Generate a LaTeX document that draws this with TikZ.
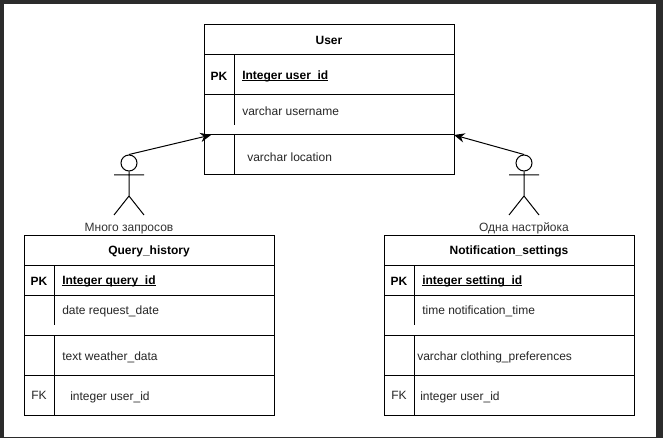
\documentclass[tikz,border=0pt]{standalone}
\usepackage{fontspec}
\setmainfont{Liberation Sans}
\usetikzlibrary{arrows.meta}
\newcommand\ulin[1]{\setbox0\hbox{#1}\rlap{\rule[-1.5pt]{\wd0}{0.6pt}}\box0}
\tikzset{
  x=0.75pt,y=-0.75pt,
  ln/.style={draw=black,line width=0.75pt},
  tbl/.style={ln,fill=white},
  txt/.style={font=\fontsize{9}{11}\selectfont,inner sep=0pt,text=black!85,anchor=west},
  bld/.style={font=\fontsize{9}{11}\selectfont\bfseries,inner sep=0pt,text=black},
  conn/.style={ln,-{Stealth[length=8pt,width=7pt]}},
  headc/.style={circle,ln,minimum size=12pt,inner sep=0pt,fill=white},
  lab/.style={font=\fontsize{9}{11}\selectfont,inner sep=0pt,text=black!80},
}
\definecolor{frame}{HTML}{2B2B2B}
\begin{document}
\begin{tikzpicture}
\useasboundingbox (0,0) rectangle (663,438);
\fill[white] (0,0) rectangle (663,438);
% window edges
\fill[frame] (0,0) rectangle (4,438);
\fill[frame] (656,0) rectangle (663,438);
\fill[frame] (0,0) rectangle (663,4.5);
\fill[frame] (0,437) rectangle (663,438);
% User
\draw[tbl] (204,25) rectangle (454,175);
\draw[ln] (204,55) -- (454,55) (204,95) -- (454,95) (204,135) -- (454,135);
\draw[ln] (234,55) -- (234,125) (234,135) -- (234,175);
\node[bld] (ut) at (329,40.5) {User};
\node[bld] (up) at (219,76) {PK};
\node[bld,anchor=west] (uk) at (242,76) {\ulin{Integer user\_id}};
\node[txt] (u1) at (242,111) {varchar username};
\node[txt] (u2) at (247,157) {varchar location};
% Query_history
\draw[tbl] (24,235) rectangle (274,415);
\draw[ln] (24,265) -- (274,265) (24,295) -- (274,295) (24,335) -- (274,335) (24,375) -- (274,375);
\draw[ln] (54,265) -- (54,325) (54,335) -- (54,415);
\node[bld] (qt) at (149,251) {Query\_history};
\node[bld] (qp) at (39,281) {PK};
\node[bld,anchor=west] (qk) at (62,281) {\ulin{Integer query\_id}};
\node[txt] (q1) at (62,311) {date request\_date};
\node[txt] (q2) at (62,357) {text weather\_data};
\node[txt,anchor=center] (qf) at (39,395) {FK};
\node[txt] (q3) at (70,397) {integer user\_id};
% Notification_settings
\draw[tbl] (384,235) rectangle (634,415);
\draw[ln] (384,265) -- (634,265) (384,295) -- (634,295) (384,335) -- (634,335) (384,375) -- (634,375);
\draw[ln] (414,265) -- (414,325) (414,335) -- (414,415);
\node[bld] (nt) at (509,251) {Notification\_settings};
\node[bld] (np) at (399,281) {PK};
\node[bld,anchor=west] (nk) at (422,281) {\ulin{integer setting\_id}};
\node[txt] (n1) at (422,311) {time notification\_time};
\node[txt] (n2) at (417,357) {varchar clothing\_preferences};
\node[txt,anchor=center] (nf) at (399,395) {FK};
\node[txt] (n3) at (420,397) {integer user\_id};
% Actors
\node[headc] (a1) at (129,163) {};
\draw[ln] (a1.south) -- (129,196) (114,175) -- (144,175) (114,215) -- (129,196) -- (144,215);
\node[lab] (l1) at (129,228.5) {Много запросов};
\node[headc] (a2) at (524,163) {};
\draw[ln] (a2.south) -- (524,196) (509,175) -- (539,175) (509,215) -- (524,196) -- (539,215);
\node[lab] (l2) at (524,228.5) {Одна настрйока};
% Connectors
\coordinate (ul) at (211,135);
\coordinate (ur) at (454,135);
\draw[conn] (a1.north) -- (ul);
\draw[conn] (a2.north) -- (ur);
\end{tikzpicture}
\end{document}
